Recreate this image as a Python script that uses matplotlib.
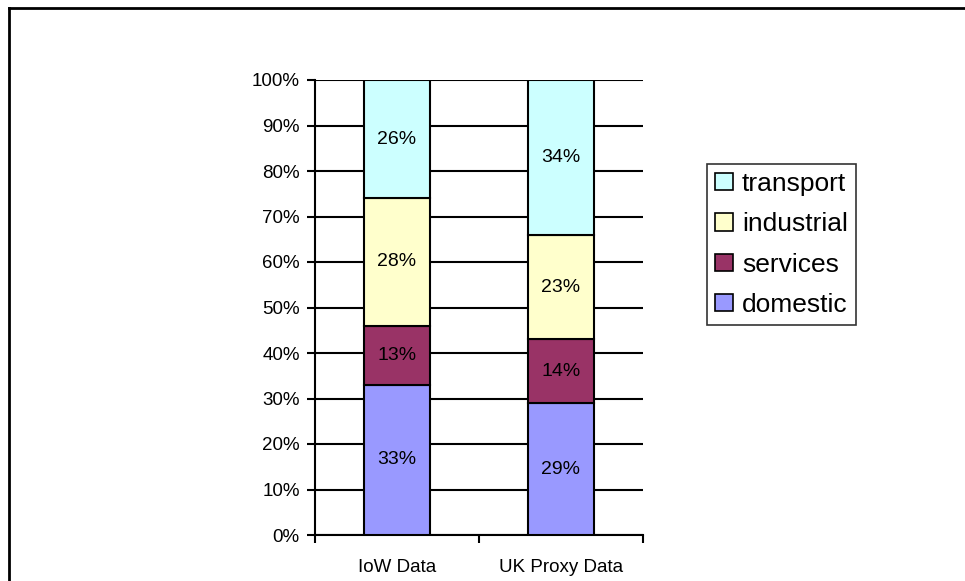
import matplotlib
matplotlib.use("Agg")
import matplotlib.pyplot as plt
from matplotlib.lines import Line2D
from matplotlib.patches import Patch
import numpy as np

plt.rcParams['font.family'] = ['Liberation Sans', 'DejaVu Sans']

categories = ["IoW Data", "UK Proxy Data"]
series_names = ["domestic", "services", "industrial", "transport"]
domestic = [33, 29]
services = [13, 14]
industrial = [28, 23]
transport = [26, 34]
colors = ["#9999FF", "#993366", "#FFFFCC", "#CCFFFF"]
yticks = [0, 10, 20, 30, 40, 50, 60, 70, 80, 90, 100]

fig = plt.figure(figsize=(9.65, 5.81), dpi=100)
ax = fig.add_axes([315/965, (581-535)/581, (643-315)/965, (535-80)/581])

x = np.arange(len(categories))
bottom = np.zeros(len(categories))
handles = []
for name, vals, col in zip(series_names, [domestic, services, industrial, transport], colors):
    vals = np.array(vals, dtype=float)
    ax.bar(x, vals, bottom=bottom, width=0.40, color=col, edgecolor="black", linewidth=1.5, zorder=3)
    for xi, b, v in zip(x, bottom, vals):
        ax.text(xi, b + v/2, f"{int(v)}%", ha="center", va="center", fontsize=14, zorder=4)
    bottom += vals
    handles.append(Patch(facecolor=col, edgecolor="black", linewidth=1.2, label=name))

ax.set_xlim(-0.5, 1.5)
ax.set_ylim(0, 100)
ax.set_yticks(yticks)
ax.set_yticklabels([f"{v}%" for v in yticks], fontsize=13.5)
ax.yaxis.grid(True, color="black", linewidth=1.5, zorder=0)
ax.set_axisbelow(True)

ax.set_xticks(x)
ax.set_xticklabels(categories, fontsize=13.5)
ax.tick_params(axis="x", which="major", length=0, pad=17)
ax.set_xticks([-0.5, 0.5, 1.5], minor=True)
ax.tick_params(axis="x", which="minor", length=6, width=1.5, direction="out")
ax.tick_params(axis="y", length=6, width=1.5, direction="out", pad=5)

for s in ["top", "right"]:
    ax.spines[s].set_visible(False)
for s in ["left", "bottom"]:
    ax.spines[s].set_linewidth(1.5)

leg = fig.legend(handles=handles[::-1], loc="upper left",
                 bbox_to_anchor=(707/965, 1 - 164/581),
                 fontsize=19, frameon=True, fancybox=False,
                 handlelength=0.68, handleheight=0.62, handletextpad=0.34,
                 borderpad=0.3, labelspacing=0.62, borderaxespad=0)
leg.get_frame().set_edgecolor("black")
leg.get_frame().set_linewidth(1.2)

# outer chart frame (left and top edges visible)
fig.add_artist(Line2D([9/965, 9/965], [0, 1 - 8/581], color="black", linewidth=2, transform=fig.transFigure))
fig.add_artist(Line2D([9/965, 1], [1 - 8/581, 1 - 8/581], color="black", linewidth=2, transform=fig.transFigure))

fig.savefig("out.png", dpi=100)
